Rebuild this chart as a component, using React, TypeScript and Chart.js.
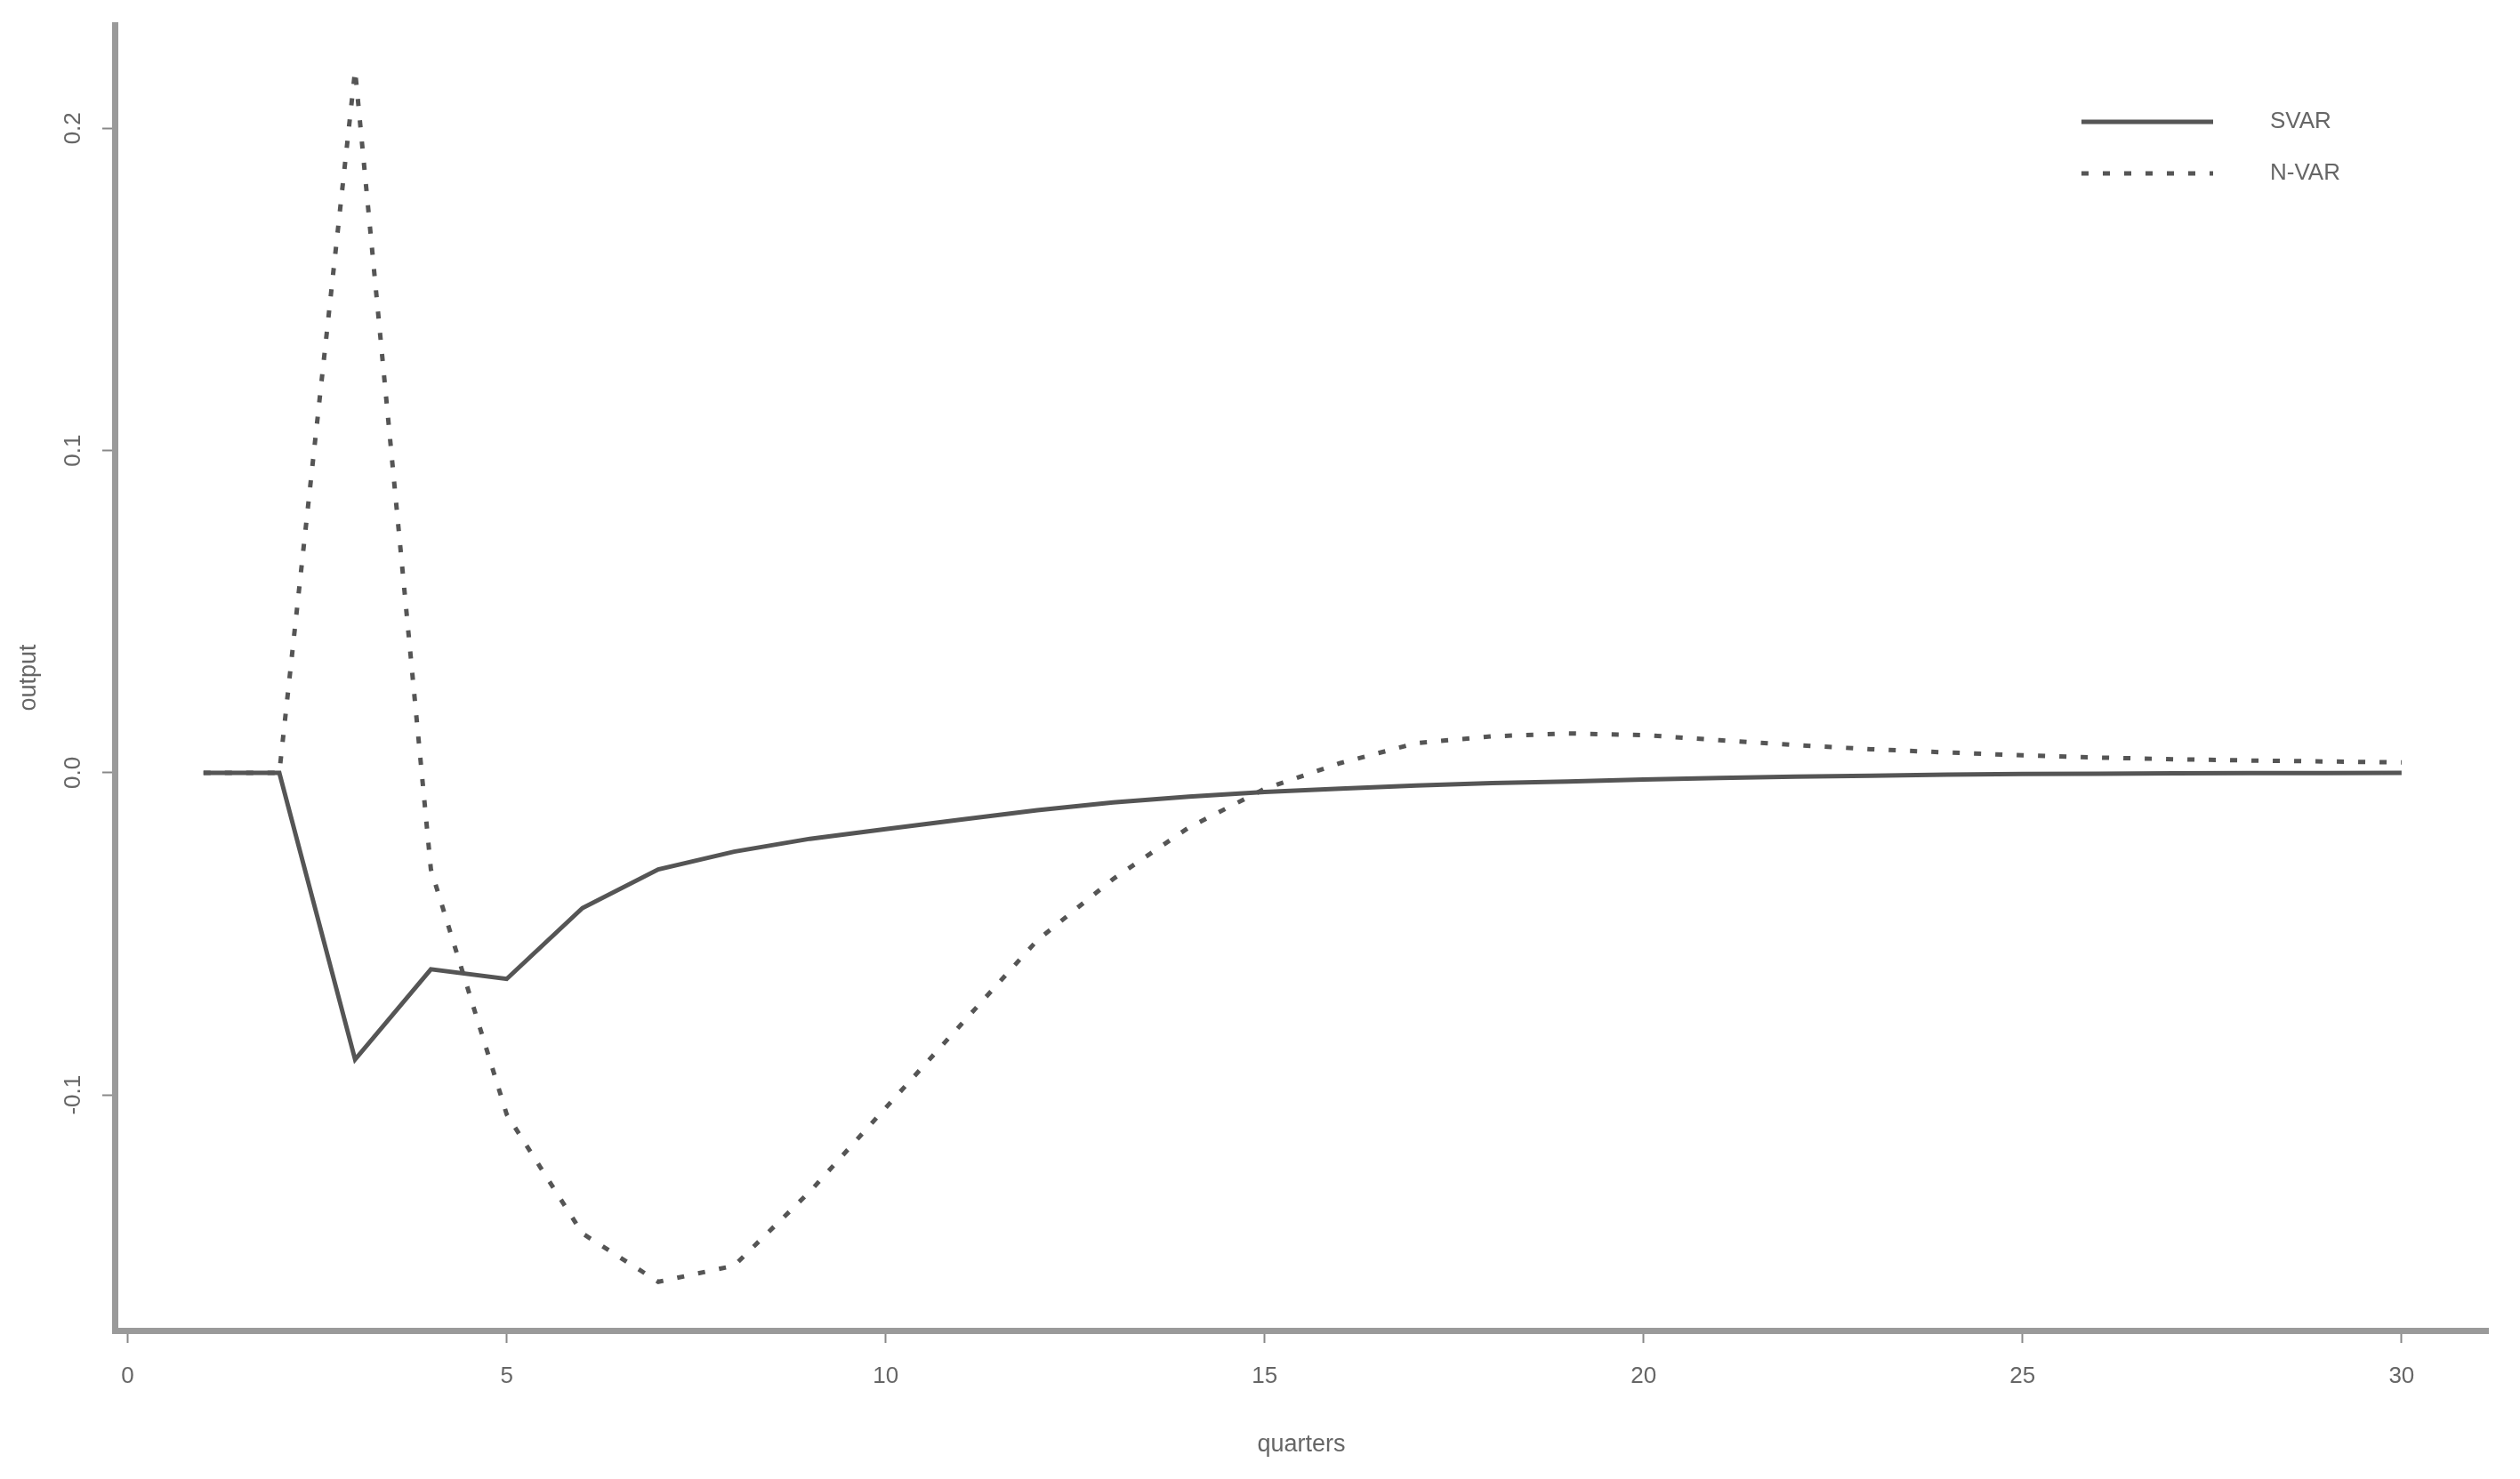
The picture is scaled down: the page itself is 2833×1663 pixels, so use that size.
import { useEffect, useRef } from "react";
import Chart from "chart.js/auto";

// impulse responses of output
const quarters = [
	1, 2, 3, 4, 5, 6, 7, 8, 9, 10, 11, 12, 13, 14, 15, 16, 17, 18, 19, 20, 21,
	22, 23, 24, 25, 26, 27, 28, 29, 30,
];
const svarResponse = [
	0, 0, -0.089, -0.061, -0.064, -0.042, -0.03, -0.0245, -0.0205, -0.0175,
	-0.0145, -0.0116, -0.0092, -0.0074, -0.006, -0.0049, -0.004, -0.0032,
	-0.0027, -0.0021, -0.0016, -0.0012, -0.0009, -0.0006, -0.0004, -0.0003,
	-0.0002, -0.0001, -0.0001, 0,
];
const nvarResponse = [
	0, 0, 0.218, -0.03, -0.106, -0.143, -0.158, -0.153, -0.13, -0.104, -0.078,
	-0.052, -0.033, -0.017, -0.005, 0.003, 0.0092, 0.0113, 0.0122, 0.0117,
	0.0101, 0.0086, 0.0073, 0.0063, 0.0054, 0.0047, 0.0042, 0.0038, 0.0035,
	0.0032,
];
const xTicks = [0, 5, 10, 15, 20, 25, 30];
const yTicks = [-0.1, 0, 0.1, 0.2];
const seriesNames = ["SVAR", "N-VAR"];

const FONT = "'Liberation Sans', Arial, Helvetica, sans-serif";
const TEXT = "#666";
const AXIS = "#9a9a9a";
const LINE = "#555";

// legend in the top right corner, as in the R plot
const legendPlugin = {
	id: "rLegend",
	afterDraw(chart) {
		const { ctx } = chart;
		const rows = [137, 195];
		ctx.save();
		chart.data.datasets.forEach((ds, i) => {
			const y = rows[i];
			ctx.beginPath();
			ctx.setLineDash(ds.borderDash || []);
			ctx.strokeStyle = ds.borderColor;
			ctx.lineWidth = ds.borderWidth;
			ctx.moveTo(2340, y);
			ctx.lineTo(2488, y);
			ctx.stroke();
			ctx.setLineDash([]);
			ctx.fillStyle = TEXT;
			ctx.font = `26px ${FONT}`;
			ctx.textBaseline = "middle";
			ctx.textAlign = "left";
			ctx.fillText(ds.label, 2552, y);
		});
		ctx.restore();
	},
};

const ImpulseChart = () => {
	const chartRef = useRef<HTMLCanvasElement | null>(null);

	useEffect(() => {
		const myChart = new Chart(chartRef.current, {
			type: "line",
			data: {
				datasets: [
					{
						label: seriesNames[0],
						data: quarters.map((q, i) => ({ x: q, y: svarResponse[i] })),
						borderColor: LINE,
						borderWidth: 5,
						pointRadius: 0,
						tension: 0,
						fill: false,
					},
					{
						label: seriesNames[1],
						data: quarters.map((q, i) => ({ x: q, y: nvarResponse[i] })),
						borderColor: LINE,
						borderWidth: 5,
						borderDash: [8, 16],
						pointRadius: 0,
						tension: 0,
						fill: false,
					},
				],
			},
			options: {
				animation: false,
				responsive: true,
				maintainAspectRatio: false,
				devicePixelRatio: 1,
				layout: { padding: { top: 28, right: 36, bottom: 0, left: 0 } },
				plugins: {
					legend: { display: false },
					tooltip: { enabled: false },
				},
				scales: {
					x: {
						type: "linear",
						min: -0.171,
						max: 31.14,
						afterBuildTicks: (s) => {
							s.ticks = xTicks.map((v) => ({ value: v }));
						},
						afterFit: (s) => {
							s.height = 167;
						},
						ticks: {
							autoSkip: false,
							maxRotation: 0,
							padding: 22,
							color: TEXT,
							font: { family: FONT, size: 26 },
							callback: (v) => String(v),
						},
						grid: {
							display: true,
							drawOnChartArea: false,
							drawTicks: true,
							tickLength: 14,
							tickWidth: 2,
							tickColor: "#888",
						},
						border: { display: true, width: 7, color: AXIS },
						title: {
							display: true,
							text: "quarters",
							color: TEXT,
							font: { family: FONT, size: 27 },
							padding: { top: 0, bottom: 22 },
						},
					},
					y: {
						type: "linear",
						min: -0.1731,
						max: 0.2321,
						afterBuildTicks: (s) => {
							s.ticks = yTicks.map((v) => ({ value: v }));
						},
						afterFit: (s) => {
							s.width = 129;
						},
						ticks: {
							autoSkip: false,
							minRotation: 90,
							maxRotation: 90,
							crossAlign: "center",
							padding: 10,
							color: TEXT,
							font: { family: FONT, size: 26 },
							callback: (v) => Number(v).toFixed(1),
						},
						grid: {
							display: true,
							drawOnChartArea: false,
							drawTicks: true,
							tickLength: 14,
							tickWidth: 2,
							tickColor: "#888",
						},
						border: { display: true, width: 7, color: AXIS },
						title: {
							display: true,
							text: "output",
							color: TEXT,
							font: { family: FONT, size: 27 },
							padding: { top: 16, bottom: 0 },
						},
					},
				},
			},
			plugins: [legendPlugin],
		});

		return () => {
			myChart.destroy();
		};
	}, []);

	return (
		<div
			style={{
				position: "absolute",
				left: 0,
				top: 0,
				width: 2833,
				height: 1663,
				background: "#fff",
			}}
		>
			<canvas ref={chartRef} />
		</div>
	);
};

export default function App() {
	return <ImpulseChart />;
}
